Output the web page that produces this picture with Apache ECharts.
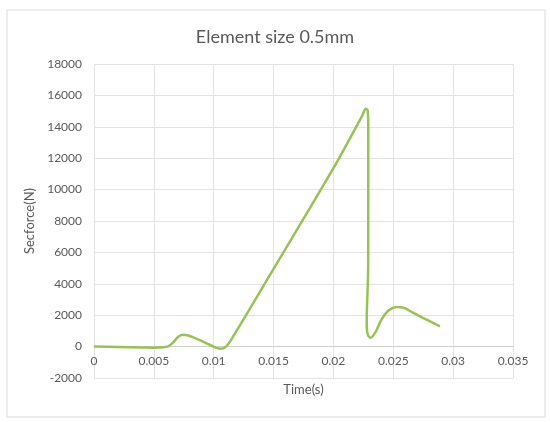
<!DOCTYPE html>
<html>
<head>
<meta charset="utf-8">
<script src="https://cdn.jsdelivr.net/npm/echarts@6/dist/echarts.min.js"></script>
<style>
  html, body { margin: 0; padding: 0; background: #fff; }
  #myChart { width: 550px; height: 422px; }
</style>
</head>
<body>
<div id="myChart"></div>
<script>
  // 时间(s)
  var timeData = [0, 0.002, 0.004, 0.005, 0.0057, 0.0062, 0.0066, 0.0070, 0.0074, 0.0078,
    0.0084, 0.0091, 0.0098, 0.0103, 0.0106, 0.0109, 0.0113, 0.015, 0.02, 0.0224,
    0.0227, 0.02286, 0.02291, 0.02291, 0.0229, 0.02279, 0.02278, 0.02288, 0.0231,
    0.0235, 0.0240, 0.0246, 0.0253, 0.0259, 0.0266, 0.0276, 0.0289];
  // 截面力(N)
  var forceData = [0, -20, -55, -70, -45, 20, 250, 600, 760, 720,
    560, 320, 70, -100, -130, -80, 250, 4950, 11360, 14700,
    15150, 15050, 14000, 9000, 5000, 2200, 1300, 750, 560,
    900, 1700, 2300, 2530, 2470, 2180, 1780, 1290];
  var xTicks = [0, 0.035, 0.005];
  var yTicks = [-2000, 18000, 2000];

  var seriesData = timeData.map(function (t, i) { return [t, forceData[i]]; });

  var myChart = echarts.init(document.getElementById('myChart'));
  var font = 'Lato, "Open Sans", sans-serif';
  var option = {
    animation: false,
    title: {
      text: 'Element size 0.5mm',
      left: 'center',
      top: 23,
      textStyle: { color: '#595959', fontSize: 18, fontWeight: 'normal', fontFamily: font }
    },
    graphic: [{
      type: 'rect',
      shape: { x: 7, y: 10, width: 538, height: 407 },
      style: { fill: 'none', stroke: '#d9d9d9', lineWidth: 1 }
    }],
    grid: { left: 94, right: 37, top: 64, bottom: 44, containLabel: false, outerBoundsMode: 'none' },
    xAxis: {
      type: 'value',
      min: xTicks[0],
      max: xTicks[1],
      interval: xTicks[2],
      offset: -31.4, // 轴线放在 y=0 处
      name: 'Time(s)',
      nameLocation: 'middle',
      nameGap: 37,
      nameTextStyle: { color: '#595959', fontSize: 13, fontFamily: font },
      axisLine: { onZero: false, lineStyle: { color: '#d0d0d0' } },
      axisTick: { show: false },
      axisLabel: { color: '#595959', fontSize: 12, fontFamily: font, margin: 9 },
      splitLine: { show: true, lineStyle: { color: '#e3e3e3' } }
    },
    yAxis: {
      type: 'value',
      min: yTicks[0],
      max: yTicks[1],
      interval: yTicks[2],
      name: 'Secforce(N)',
      nameLocation: 'middle',
      nameGap: 54,
      nameTextStyle: { color: '#595959', fontSize: 13, fontFamily: font },
      axisLine: { show: false },
      axisTick: { show: false },
      axisLabel: {
        color: '#595959', fontSize: 12, fontFamily: font, margin: 12,
        formatter: function (v) { return String(v); }
      },
      splitLine: { show: true, lineStyle: { color: '#e3e3e3' } }
    },
    series: [{
      type: 'line',
      data: seriesData,
      smooth: 0.3,
      showSymbol: false,
      lineStyle: { color: '#98c158', width: 2.5 }
    }]
  };
  myChart.setOption(option);
</script>
</body>
</html>
